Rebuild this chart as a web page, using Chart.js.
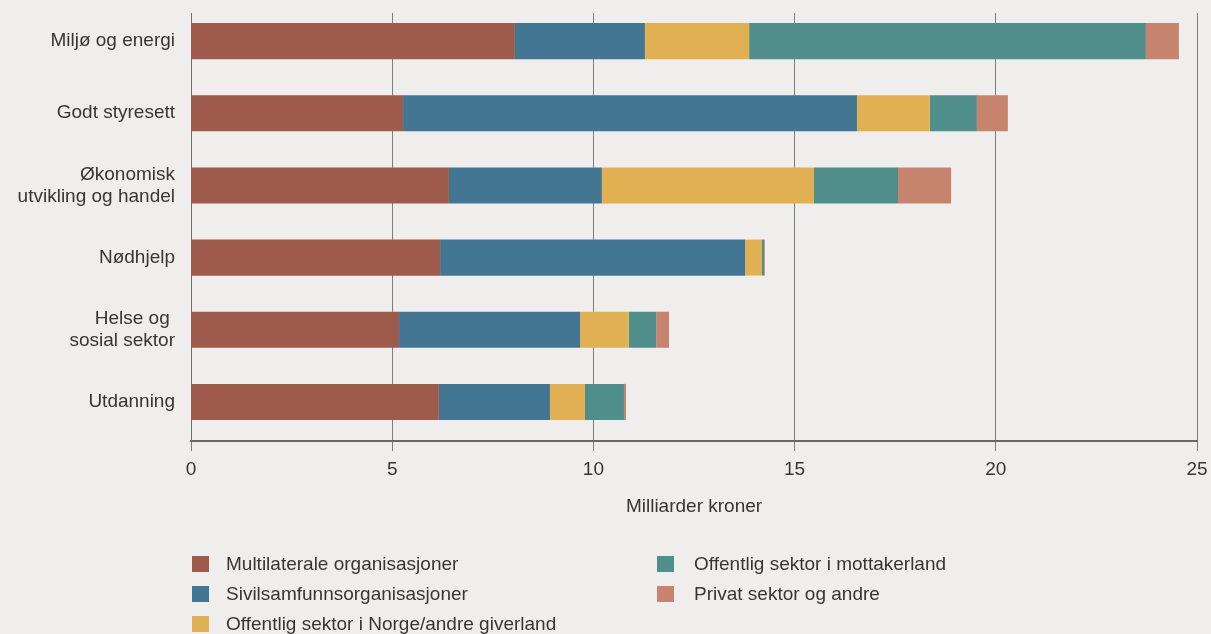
<!DOCTYPE html>
<html>
<head>
<meta charset="utf-8">
<script src="https://cdn.jsdelivr.net/npm/chart.js@4/dist/chart.umd.min.js"></script>
<style>
  html, body { margin: 0; padding: 0; background: #efeeec; }
  #wrap { position: relative; width: 1211px; height: 634px; overflow: hidden; }
  #box { position: absolute; left: 0; top: 0; width: 1211px; height: 535px; }
  #legend { position: absolute; left: 0; top: 0; width: 1211px; height: 634px; pointer-events: none; }
  .item { position: absolute; height: 20px; font: 19px "Liberation Sans", Arial, sans-serif; color: #363636; white-space: nowrap; }
  .item span.sw { position: absolute; left: 0; top: 2px; width: 17px; height: 16px; }
  .item span.tx { position: absolute; top: -1px; }
</style>
</head>
<body>
<div id="wrap">
  <div id="box"><canvas id="barChart"></canvas></div>
  <div id="legend"></div>
</div>
<script>
// kategorier (y-aksen)
const categories = [
  ['Miljø og energi'],
  ['Godt styresett'],
  ['Økonomisk', 'utvikling og handel'],
  ['Nødhjelp'],
  ['Helse og ', 'sosial sektor'],
  ['Utdanning']
];

// milliarder kroner, lest av figuren
const multilaterale = [8.05, 5.27, 6.41, 6.19, 5.17, 6.16];
const sivilsamfunn = [3.23, 11.28, 3.80, 7.58, 4.50, 2.76];
const offentligNorge = [2.59, 1.81, 5.27, 0.42, 1.21, 0.87];
const offentligMottaker = [9.86, 1.17, 2.09, 0.05, 0.68, 0.97];
const privatSektor = [0.82, 0.77, 1.32, 0.02, 0.32, 0.05];

const xTicks = [0, 5, 10, 15, 20, 25];

const seriesNames = [
  'Multilaterale organisasjoner',
  'Sivilsamfunnsorganisasjoner',
  'Offentlig sektor i Norge/andre giverland',
  'Offentlig sektor i mottakerland',
  'Privat sektor og andre'
];
const seriesColors = ['#9e5b4b', '#437693', '#e1b052', '#4f8e8a', '#c6846f'];
const seriesData = [multilaterale, sivilsamfunn, offentligNorge, offentligMottaker, privatSektor];

const FONT = '"Liberation Sans", Arial, sans-serif';
const TEXT = '#363636';

// kategoriene ligger litt over gitterlinjenes topp i originalen
const shiftCategories = {
  id: 'shiftCategories',
  afterLayout(chart) {
    const y = chart.scales.y;
    y._startPixel = y.top - 8;
    y._endPixel = y.bottom - 3;
    y._length = y._endPixel - y._startPixel;
  }
};

const ctx = document.getElementById('barChart');
const chart = new Chart(ctx, {
  type: 'bar',
  data: {
    labels: categories,
    datasets: seriesNames.map((name, i) => ({
      label: name,
      data: seriesData[i],
      backgroundColor: seriesColors[i],
      borderWidth: 0,
      barPercentage: 1,
      categoryPercentage: 0.5
    }))
  },
  options: {
    indexAxis: 'y',
    responsive: true,
    maintainAspectRatio: false,
    animation: false,
    layout: { padding: { top: 13, right: 14, left: 0, bottom: 0 } },
    scales: {
      x: {
        stacked: true,
        min: 0,
        max: 25,
        afterBuildTicks: (scale) => { scale.ticks = xTicks.map(v => ({ value: v })); },
        afterFit: (scale) => {
          scale.height = 94;
          scale.paddingLeft = 0;
          scale.paddingRight = 0;
        },
        grid: { color: '#7d7d7d', lineWidth: 1, tickLength: 10, drawTicks: true },
        border: { display: true, color: '#666', width: 2 },
        ticks: { color: TEXT, font: { family: FONT, size: 19 }, padding: 7, maxRotation: 0 },
        title: {
          display: true,
          text: 'Milliarder kroner',
          color: TEXT,
          font: { family: FONT, size: 19 },
          padding: { top: 0, bottom: 17 }
        }
      },
      y: {
        stacked: true,
        afterFit: (scale) => {
          scale.width = 191;
          scale.paddingTop = 0;
          scale.paddingBottom = 0;
        },
        grid: { display: false, tickLength: 0 },
        border: { display: true, color: '#6e6e6e', width: 1 },
        ticks: { color: TEXT, font: { family: FONT, size: 19, lineHeight: 1.15 }, padding: 16 }
      }
    },
    plugins: {
      legend: { display: false },
      tooltip: { enabled: false }
    }
  },
  plugins: [shiftCategories]
});

// forklaring i to kolonner, bygget fra datasettene
const legendPos = [
  { x: 192, y: 554 }, { x: 192, y: 584 }, { x: 192, y: 614 },
  { x: 657, y: 554 }, { x: 657, y: 584 }
];
const legendEl = document.getElementById('legend');
chart.data.datasets.forEach((ds, i) => {
  const it = document.createElement('div');
  it.className = 'item';
  it.style.left = legendPos[i].x + 'px';
  it.style.top = legendPos[i].y + 'px';
  const sw = document.createElement('span');
  sw.className = 'sw';
  sw.style.background = ds.backgroundColor;
  const tx = document.createElement('span');
  tx.className = 'tx';
  tx.style.left = (i < 3 ? 34 : 37) + 'px';
  tx.textContent = ds.label;
  it.appendChild(sw);
  it.appendChild(tx);
  legendEl.appendChild(it);
});
</script>
</body>
</html>
